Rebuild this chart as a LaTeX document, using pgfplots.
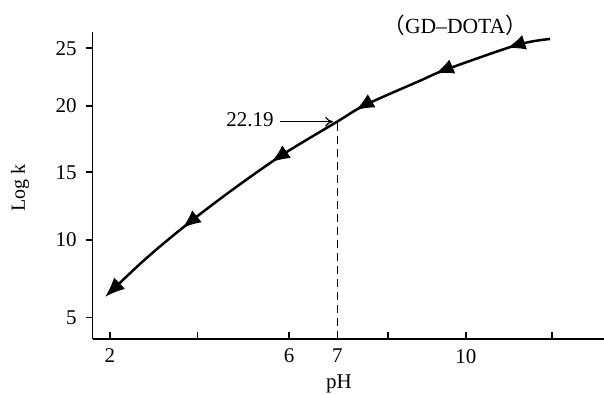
\documentclass[border=0pt]{standalone}
\usepackage{pgfplots}
\pgfplotsset{compat=1.18}
\usepackage{fontspec}
\setmainfont{Liberation Serif}
\newfontfamily\cjk{Noto Sans CJK SC}
\usetikzlibrary{decorations.markings,arrows.meta}

\pgfplotstableread{
x y
1.892 6.51
2.903 9.63
3.802 12.09
4.746 14.46
5.870 17.07
7.106 19.54
7.735 20.78
8.971 22.59
9.53 23.39
11.15 25.25
11.89 25.69
}\curvedata

\begin{document}
\begin{tikzpicture}
\begin{axis}[
  at={(0,0)}, anchor=south west,
  scale only axis, width=255.65pt, height=153.65pt,
  xmin=1.616, xmax=13.1, ymin=3.39, ymax=26.23,
  axis x line=bottom, axis y line=left,
  axis line style={-, line width=0.8pt},
  xtick={2,3.97,6.03,7.11,8.25,10,11.93},
  xticklabels={2,,6,7,,10,},
  ytick={5,10.75,15.78,20.71,25},
  yticklabels={5,10,15,20,25},
  xtick align=inside, ytick align=outside,
  major tick length=3.5pt,
  tick style={line width=0.8pt, black},
  ticklabel style={font=\fontsize{10.5}{12}\selectfont},
  xticklabel style={yshift=-1.5pt},
  yticklabel style={xshift=-1pt},
  clip=false,
  /pgf/number format/assume math mode=true,
]
\addplot[black, line width=0.6pt, dash pattern=on 4pt off 2.5pt] coordinates {(7.106,3.39) (7.106,19.54)};
\addplot[black, line width=1.25pt, smooth, {Latex[length=10pt,width=8pt]}-] table {\curvedata};
\addplot[draw=none, smooth, -,
  postaction={decorate},
  decoration={markings,
    mark=at position 0.200 with {\arrowreversed[black]{Latex[length=9pt,width=7.5pt]}},
    mark=at position 0.412 with {\arrowreversed[black]{Latex[length=9pt,width=7.5pt]}},
    mark=at position 0.602 with {\arrowreversed[black]{Latex[length=9pt,width=7.5pt]}},
    mark=at position 0.770 with {\arrowreversed[black]{Latex[length=9pt,width=7.5pt]}},
    mark=at position 0.916 with {\arrowreversed[black]{Latex[length=9pt,width=7.5pt]}}}]
  table {\curvedata};
\node[font=\fontsize{10.5}{12}\selectfont] at (axis cs:5.15,19.67) {22.19};
\draw[black, line width=0.6pt, -{To[length=4pt,width=5pt]}] (axis cs:5.825,19.54) -- (axis cs:7.016,19.54);
\node[font=\fontsize{10.8}{12}\selectfont] at (axis cs:9.757,26.71) {{\cjk （}GD–DOTA{\cjk ）}};
\node[rotate=90, font=\fontsize{10}{12}\selectfont] at (rel axis cs:-0.142,0.491) {Log k};
\node[font=\fontsize{10.5}{12}\selectfont] at (rel axis cs:0.4817,-0.1464) {pH};
\end{axis}
\pgfresetboundingbox
\useasboundingbox (-46.35pt,-28pt) rectangle (255.65pt,169.5pt);
\end{tikzpicture}
\end{document}
